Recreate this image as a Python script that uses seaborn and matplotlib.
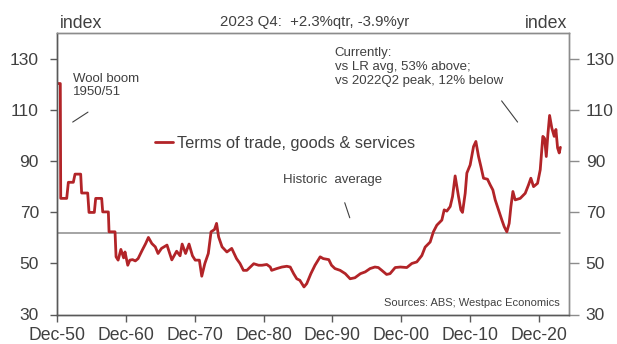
import matplotlib
matplotlib.use("Agg")
import matplotlib.pyplot as plt
import seaborn as sns
import pandas as pd

# ---- data ----
years = [
    1950.92, 1951.40, 1951.46, 1952.33, 1952.57, 1953.29, 1953.54, 1954.36,
    1954.50, 1955.38, 1955.57, 1956.34, 1956.54, 1957.41, 1957.56, 1958.38,
    1958.48, 1959.35, 1959.50, 1959.80, 1960.20, 1960.60, 1960.80, 1961.20,
    1961.50, 1961.90, 1962.30, 1962.70, 1963.30, 1963.80, 1964.20, 1964.70,
    1965.20, 1965.60, 1966.10, 1966.90, 1967.60, 1968.30, 1968.80, 1969.10,
    1969.60, 1970.10, 1970.60, 1971.00, 1971.60, 1971.95, 1972.40, 1972.90,
    1973.30, 1973.80, 1974.10, 1974.40, 1974.90, 1975.60, 1976.30, 1977.00,
    1977.50, 1978.00, 1978.50, 1979.00, 1979.50, 1980.20, 1980.70, 1981.40,
    1981.90, 1982.10, 1982.85, 1983.60, 1984.30, 1984.80, 1985.30, 1985.75,
    1986.20, 1986.80, 1987.20, 1987.80, 1988.40, 1989.15, 1989.60, 1990.40,
    1990.80, 1991.30, 1992.05, 1992.80, 1993.50, 1994.20, 1995.00, 1995.70,
    1996.40, 1997.10, 1997.60, 1998.10, 1998.80, 1999.30, 2000.05, 2000.80,
    2001.74, 2002.47, 2003.19, 2003.92, 2004.40, 2005.13, 2005.60, 2006.10,
    2006.83, 2007.17, 2007.55, 2008.04, 2008.38, 2008.76, 2009.25, 2009.59,
    2009.83, 2010.22, 2010.46, 2010.94, 2011.43, 2011.77, 2012.16, 2012.50,
    2012.88, 2013.46, 2013.85, 2014.24, 2014.58, 2015.06, 2015.55, 2015.89,
    2016.27, 2016.61, 2016.86, 2017.15, 2017.48, 2018.21, 2018.94, 2019.42,
    2019.76, 2020.15, 2020.73, 2021.12, 2021.50, 2021.75, 2022.00, 2022.23,
    2022.48, 2022.80, 2023.15, 2023.40, 2023.64, 2023.88, 2024.05,
]
tot_index = [
    120.5, 120.5, 75.5, 75.5, 81.8, 81.8, 85.0, 85.0,
    77.6, 77.6, 70.0, 70.0, 75.5, 75.5, 70.2, 70.2,
    62.4, 62.4, 52.6, 51.3, 55.5, 52.2, 54.5, 49.3,
    51.3, 51.5, 51.0, 51.9, 55.2, 57.8, 60.2, 57.8,
    56.5, 53.9, 55.9, 57.2, 51.4, 54.8, 53.0, 57.6,
    53.9, 57.6, 53.0, 51.3, 51.3, 45.0, 50.0, 53.9,
    62.4, 63.3, 65.7, 60.4, 56.5, 54.5, 55.9, 51.9,
    50.0, 47.3, 47.3, 48.6, 49.9, 49.3, 49.3, 49.6,
    48.6, 47.3, 48.0, 48.6, 48.9, 48.6, 46.0, 44.0,
    43.4, 40.8, 42.1, 46.0, 49.3, 52.6, 51.9, 51.5,
    49.3, 48.0, 47.3, 46.0, 44.0, 44.4, 46.0, 46.7,
    48.0, 48.6, 48.4, 47.3, 45.7, 46.0, 48.4, 48.6,
    48.4, 50.0, 50.6, 53.1, 56.4, 58.4, 62.4, 65.0,
    67.0, 71.0, 70.5, 72.3, 76.2, 84.3, 76.2, 71.0,
    70.0, 77.5, 85.4, 88.6, 95.8, 97.8, 91.9, 88.0,
    83.4, 83.0, 80.8, 78.8, 74.9, 71.0, 67.0, 64.4,
    62.4, 65.7, 72.3, 78.2, 74.9, 75.5, 77.5, 80.8,
    83.4, 80.1, 81.4, 86.7, 99.8, 99.0, 91.9, 100.5,
    108.0, 103.1, 99.8, 102.5, 95.3, 93.3, 95.5,
]
historic_avg = 62.0

x_ticks = [1950.92, 1960.92, 1970.92, 1980.92, 1990.92, 2000.92, 2010.92, 2020.92]
x_tick_labels = ["Dec-50", "Dec-60", "Dec-70", "Dec-80", "Dec-90", "Dec-00", "Dec-10", "Dec-20"]
y_ticks = [30, 50, 70, 90, 110, 130]

series_label = "Terms of trade, goods & services"
header_text = "2023 Q4:  +2.3%qtr, -3.9%yr"

# ---- style ----
sns.set_theme(style="white")
plt.rcParams["font.family"] = ["Liberation Sans", "DejaVu Sans"]
TXT = "#404040"
RED = "#B22428"

df = pd.DataFrame({"year": years, "index": tot_index})
avg_df = pd.DataFrame({"year": [years[0], years[-1]], "avg": [historic_avg, historic_avg]})

fig = plt.figure(figsize=(6.17, 3.44), dpi=100)
ax = fig.add_axes([57 / 617, 1 - 314.5 / 344, 512 / 617, 281.5 / 344])

sns.lineplot(data=avg_df, x="year", y="avg", ax=ax, color="#8c8c8c", linewidth=1.1,
             legend=False)
sns.lineplot(data=df, x="year", y="index", ax=ax, color=RED, linewidth=2.0,
             label=series_label)

ax.set_xlim(1950.92, 2025.3)
ax.set_ylim(30, 140.3)
ax.set_xticks(x_ticks)
ax.set_xticklabels(x_tick_labels)
ax.set_yticks(y_ticks)
ax.set_xlabel("")
ax.set_ylabel("")
ax.tick_params(axis="x", direction="out", length=5, width=1, color="#595959",
               labelsize=12.7, labelcolor=TXT, pad=4, bottom=True)
ax.tick_params(axis="y", direction="out", length=5, width=1, color="#595959",
               labelsize=12.5, labelcolor=TXT, pad=8, left=True)

ax2 = ax.twinx()
ax2.set_ylim(ax.get_ylim())
ax2.set_yticks(y_ticks)
ax2.tick_params(axis="y", direction="out", length=7, width=1, color="#8c8c8c",
                labelsize=12.5, labelcolor=TXT, pad=5, right=True)

for a in (ax, ax2):
    for side, sp in a.spines.items():
        sp.set_visible(True)
        sp.set_linewidth(1.0)
    a.spines["left"].set_color("#595959")
    a.spines["bottom"].set_color("#595959")
    a.spines["top"].set_color("#8c8c8c")
    a.spines["right"].set_color("#8c8c8c")

leg = ax.legend(loc="center left", bbox_to_anchor=(0.191, 0.609), frameon=False,
                fontsize=11.8, handlelength=1.1, handletextpad=0.25,
                borderpad=0, borderaxespad=0)
for t in leg.get_texts():
    t.set_color(TXT)

# annotations
ax.text(1953.24, 124.7, "Wool boom\n1950/51", fontsize=9.5, color=TXT,
        va="top", ha="left", linespacing=1.15)
ax.plot([1953.2, 1955.42], [105.4, 109.3], color=TXT, linewidth=0.8)

ax.text(1991.27, 134.9, "Currently:\nvs LR avg, 53% above;\nvs 2022Q2 peak, 12% below",
        fontsize=9.5, color=TXT, va="top", ha="left", linespacing=1.25)
ax.plot([2015.51, 2017.83], [113.7, 105.4], color=TXT, linewidth=0.8)

ax.text(1983.72, 82.7, "Historic  average", fontsize=9.5, color=TXT,
        va="center", ha="left")
ax.plot([1992.72, 1993.45], [73.8, 67.9], color=TXT, linewidth=0.8)

ax.text(0.982, 0.041, "Sources: ABS; Westpac Economics", transform=ax.transAxes,
        fontsize=8, color=TXT, ha="right", va="center")

fig.text(60 / 617, 1 - 27.7 / 344, "index", fontsize=12.8, color=TXT,
         ha="left", va="baseline")
fig.text(567 / 617, 1 - 27.7 / 344, "index", fontsize=12.8, color=TXT,
         ha="right", va="baseline")
fig.text(315 / 617, 1 - 26 / 344, header_text, fontsize=10.8, color=TXT,
         ha="center", va="baseline")

fig.savefig("out.png", dpi=100)
